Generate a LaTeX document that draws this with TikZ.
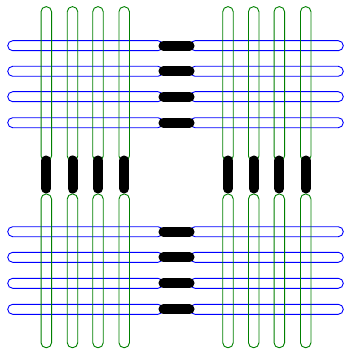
\documentclass[tikz,border=0pt]{standalone}
\begin{document}
\begin{tikzpicture}[x=1pt,y=-1pt,
  hcap/.style={draw=blue, line width=0.9pt, rectangle, rounded corners=5pt, inner sep=0pt, minimum height=10pt},
  vcap/.style={draw=green!50!black, line width=0.9pt, rectangle, rounded corners=5pt, inner sep=0pt, minimum width=10.5pt},
  bar/.style={line width=10pt, line cap=round, black}]
\useasboundingbox (0,0) rectangle (344,350);
% horizontal rows (blue capsules joined by black bars)
\foreach \i/\y in {1/45.7,2/71.3,3/96.7,4/122.7,5/231.7,6/257.3,7/283.3,8/309.3}{
  \node[hcap, minimum width=155.3pt] (L\i) at (85.35,\y) {};
  \node[hcap, minimum width=153.3pt] (R\i) at (266.65,\y) {};
}
% vertical columns (green capsules joined by black bars)
\foreach \j/\x in {1/46.3,2/72.5,3/98,4/124.2,5/228,6/253.7,7/279.3,8/305.7}{
  \node[vcap, minimum height=154.3pt] (T\j) at (\x,83.85) {};
  \node[vcap, minimum height=153.7pt] (B\j) at (\x,270.85) {};
}
\foreach \i in {1,...,8}{
  \draw[bar] (L\i.east) -- (R\i.west);
  \draw[bar, shorten <=-1pt, shorten >=5pt] (T\i.south) -- (B\i.north);
}
\end{tikzpicture}
\end{document}
